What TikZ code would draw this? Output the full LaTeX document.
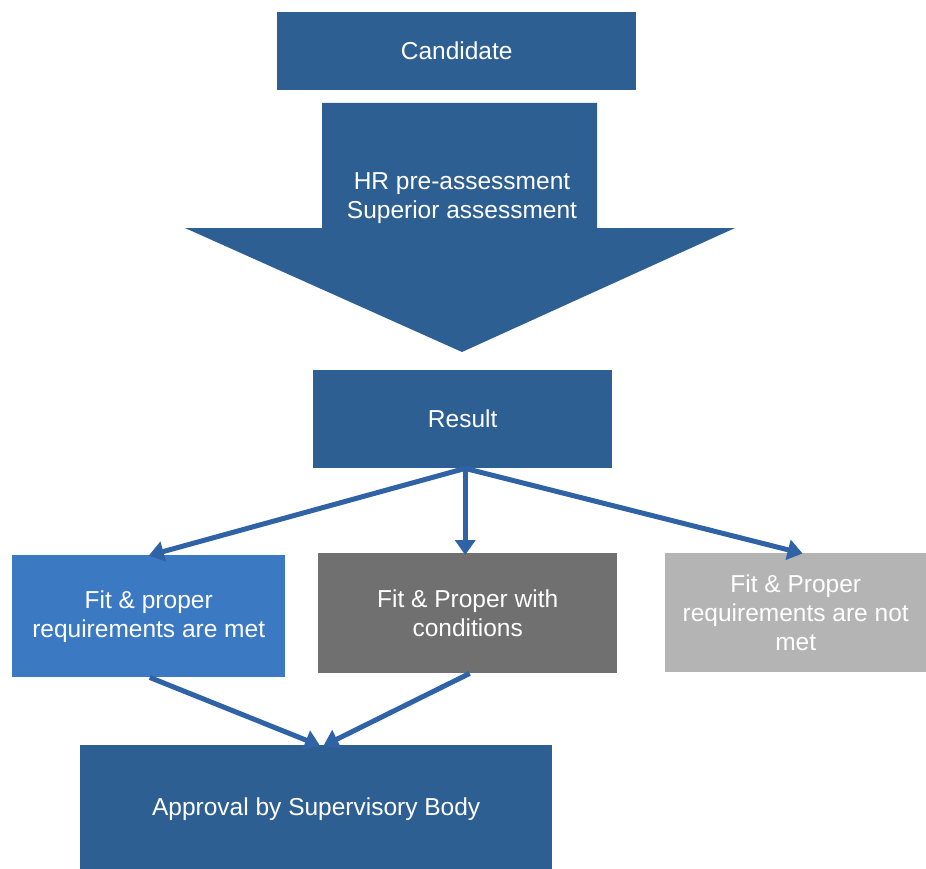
\documentclass[tikz,border=0pt]{standalone}
\usepackage{fontspec}
\setmainfont{Liberation Sans}
\usetikzlibrary{arrows.meta}
\definecolor{navy}{HTML}{2E5F92}
\definecolor{brightblue}{HTML}{3B79C3}
\definecolor{darkgrey}{HTML}{707070}
\definecolor{lightgrey}{HTML}{B4B4B4}
\definecolor{linkblue}{HTML}{2F63A6}
\tikzset{
  box/.style={rectangle, draw=none, inner sep=0pt, anchor=north west,
    text=white, align=center,
    font=\fontsize{24.5}{29}\selectfont},
  link/.style={draw=linkblue, line width=5pt,
    -{Triangle[width=20pt,length=15pt]}, shorten >=-2pt},
}
\begin{document}
\begin{tikzpicture}[x=1pt,y=-1pt]
\useasboundingbox[fill=white] (0,0) rectangle (926,869);

% top box
\node[box, fill=navy, minimum width=359pt, minimum height=78pt] (cand) at (277,12) {Candidate};

% block arrow for the assessment step
\fill[navy] (322,103) -- (597,103) -- (597,228) -- (735,228)
  -- (462,352) -- (185,228) -- (322,228) -- cycle;
\node[box, anchor=center] (assess) at (462,198) {HR pre-assessment\\Superior assessment};

% result
\node[box, fill=navy, minimum width=299pt, minimum height=98pt] (result) at (313,370) {Result};

% three outcomes
\node[box, fill=brightblue, minimum width=273pt, minimum height=122pt] (met) at (12,555)
  {Fit \& proper\\requirements are met};
\node[box, fill=darkgrey, minimum width=299pt, minimum height=120pt] (cond) at (318,553)
  {Fit \& Proper with\\conditions};
\node[box, fill=lightgrey, minimum width=261pt, minimum height=119pt] (notmet) at (665,553)
  {Fit \& Proper\\requirements are not\\met};

% final approval
\node[box, fill=navy, minimum width=472pt, minimum height=130pt] (approval) at (80,745)
  {\raisebox{8pt}{Approval by Supervisory Body}};

% connectors
\coordinate (rb) at ([xshift=2.5pt]result.south);
\draw[link] (rb) -- ([xshift=2pt]met.north);
\draw[link] (rb) -- ([xshift=-2.5pt]cond.north);
\draw[link] (rb) -- ([xshift=5pt]notmet.north);
\draw[link] ([xshift=1pt]met.south) -- ([xshift=2pt]approval.north);
\draw[link] ([xshift=2pt]cond.south) -- ([xshift=9pt]approval.north);
\end{tikzpicture}
\end{document}
